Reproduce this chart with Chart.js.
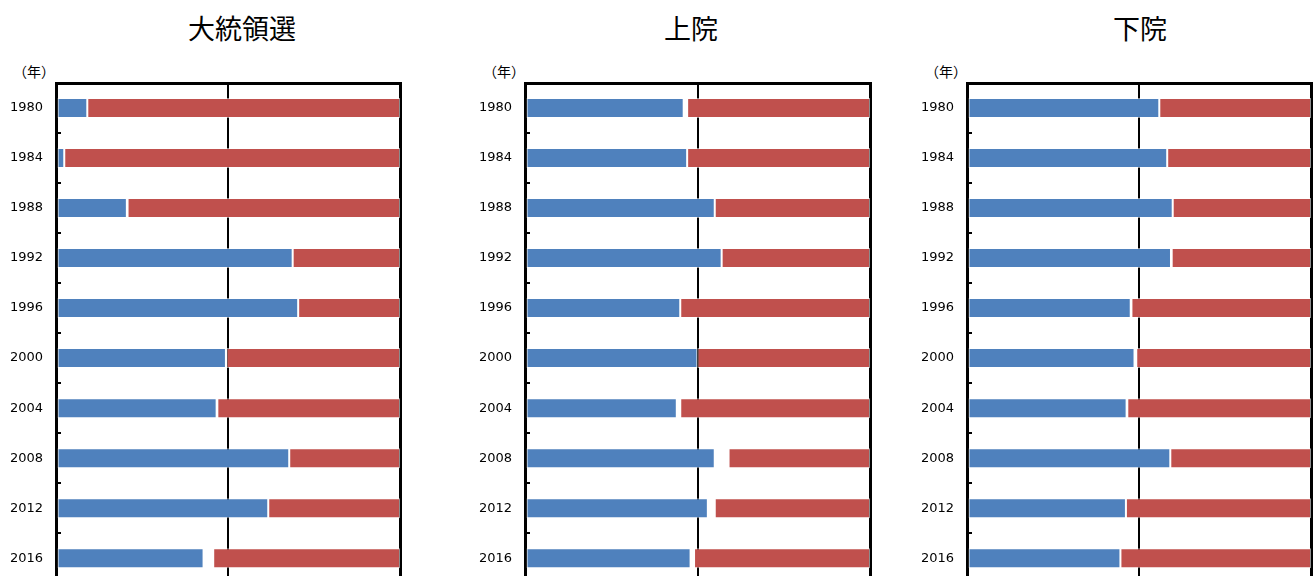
<!DOCTYPE html>
<html lang="ja">
<head>
<meta charset="utf-8">
<title>大統領選・上院・下院</title>
<script src="https://cdn.jsdelivr.net/npm/chart.js@4/dist/chart.umd.min.js"></script>
<style>
    html, body { margin: 0; padding: 0; background: #fff; }
    body { position: relative; width: 1314px; height: 576px; overflow: hidden; font-family: "Noto Sans CJK JP", "Noto Sans", sans-serif; color: #000; }
    canvas { position: absolute; top: 0; }
    .title { position: absolute; top: 14px; font-size: 27px; line-height: 28px; transform: translateX(-50%); white-space: nowrap; }
    .unit { position: absolute; top: 63px; font-size: 14px; line-height: 16px; white-space: nowrap; transform: translateX(-50%); }
</style>
</head>
<body>
    <div class="title" style="left:242px">大統領選</div>
    <div class="title" style="left:691px">上院</div>
    <div class="title" style="left:1140px">下院</div>
    <div class="unit" style="left:34px">（年）</div>
    <div class="unit" style="left:504px">（年）</div>
    <div class="unit" style="left:946px">（年）</div>

    <!-- canvases run past the bottom of the window, like the cropped original -->
    <canvas id="presChart" width="403" height="609" style="left:0px"></canvas>
    <canvas id="senateChart" width="404" height="609" style="left:469px"></canvas>
    <canvas id="houseChart" width="403" height="609" style="left:911px"></canvas>

<script>
// Categories
const years = ['1980', '1984', '1988', '1992', '1996', '2000', '2004', '2008', '2012', '2016'];

// 大統領選 (share %, blue / other / red)
const presDem   = [9.1, 2.4, 20.6, 68.8, 70.4, 49.4, 46.7, 67.8, 61.7, 42.9];
const presOther = [0, 0, 0.2, 0, 0, 0.2, 0.2, 0, 0, 2.8];
const presRep   = [90.9, 97.6, 79.2, 31.2, 29.6, 50.4, 53.1, 32.2, 38.3, 54.3];

// 上院
const senDem   = [46, 47, 55, 57, 45, 50, 44, 55, 53, 48];
const senOther = [1, 0, 0, 0, 0, 0, 1, 4, 2, 1];
const senRep   = [53, 53, 45, 43, 55, 50, 55, 41, 45, 51];

// 下院
const houseDem   = [55.9, 58.2, 59.8, 59.3, 47.6, 48.7, 46.4, 59.1, 46.2, 44.6];
const houseOther = [0, 0, 0, 0.2, 0.2, 0.5, 0.2, 0, 0, 0];
const houseRep   = [44.1, 41.8, 40.2, 40.5, 52.2, 50.8, 53.4, 40.9, 53.8, 55.4];

// x ticks (only used for the grid lines)
const xTicks = [0, 50, 100];

document.addEventListener('DOMContentLoaded', () => {
    const BLUE = '#4f81bd';
    const RED = '#c0504d';
    const EDGE = 'rgba(255,255,255,0.55)';

    const makeChart = (id, dem, other, rep) => {
        const ctx = document.getElementById(id).getContext('2d');
        return new Chart(ctx, {
            type: 'bar',
            data: {
                labels: years,
                datasets: [
                    { label: 'blue', data: dem, backgroundColor: BLUE, borderColor: EDGE, borderWidth: 1, borderSkipped: false },
                    { label: 'other', data: other, backgroundColor: 'rgba(255,255,255,0)', borderWidth: 0 },
                    { label: 'red', data: rep, backgroundColor: RED, borderColor: EDGE, borderWidth: 1, borderSkipped: false }
                ]
            },
            options: {
                indexAxis: 'y',
                responsive: false,
                animation: false,
                devicePixelRatio: 1,
                layout: { padding: { top: 83, bottom: 8, right: 3, left: 0 } },
                datasets: { bar: { categoryPercentage: 1, barPercentage: 0.4 } },
                plugins: { legend: { display: false }, tooltip: { enabled: false }, title: { display: false } },
                scales: {
                    x: {
                        position: 'top',
                        stacked: true,
                        min: 0,
                        max: 100,
                        afterBuildTicks: (scale) => { scale.ticks = xTicks.map(v => ({ value: v })); },
                        afterFit: (scale) => { scale.height = 0; },
                        ticks: { display: false },
                        grid: {
                            color: '#000',
                            lineWidth: (c) => (c.tick && c.tick.value === 50 ? 2 : 3),
                            drawTicks: false
                        },
                        border: { display: true, color: '#000', width: 3 }
                    },
                    y: {
                        stacked: true,
                        afterFit: (scale) => { scale.width = 56; },
                        ticks: {
                            color: '#000',
                            padding: 18,
                            font: { family: '"DejaVu Sans", sans-serif', size: 13 }
                        },
                        grid: {
                            offset: true,
                            drawOnChartArea: false,
                            drawTicks: true,
                            tickLength: -5,
                            color: '#000',
                            lineWidth: 2
                        },
                        border: { display: true, color: '#000', width: 3 }
                    }
                }
            }
        });
    };

    makeChart('presChart', presDem, presOther, presRep);
    makeChart('senateChart', senDem, senOther, senRep);
    makeChart('houseChart', houseDem, houseOther, houseRep);
});
</script>
</body>
</html>
